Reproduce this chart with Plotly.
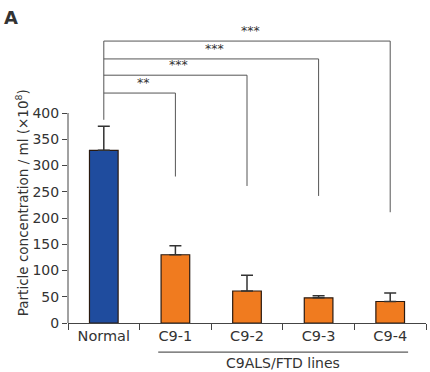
import plotly.graph_objects as go

categories = ["Normal", "C9-1", "C9-2", "C9-3", "C9-4"]
values = [329, 130, 61, 48, 41]
errors = [46, 17, 30, 4, 16]
bar_colors = ["#1f4c9e", "#f07b1f", "#f07b1f", "#f07b1f", "#f07b1f"]
y_ticks = [0, 50, 100, 150, 200, 250, 300, 350, 400]

# significance brackets: (target index, bracket height, target drop end, label)
sig_targets = [1, 2, 3, 4]
sig_heights = [438, 472, 503, 537]
sig_drop_ends = [279, 261, 242, 211]
sig_labels = ["**", "***", "***", "***"]
normal_drop_end = 387

FONT = "DejaVu Sans"
TXT = "#333333"

fig = go.Figure()
fig.add_trace(go.Bar(
    x=list(range(len(categories))), y=values,
    marker=dict(color=bar_colors, line=dict(color="#2a1a10", width=1.2)),
    width=0.4,
    error_y=dict(type="data", symmetric=False, array=errors,
                 arrayminus=[0] * len(errors), color="#333333",
                 thickness=1.5, width=6),
    showlegend=False,
))

shapes = []
line_style = dict(color="#555555", width=1)
shapes.append(dict(type="line", xref="x", yref="y", x0=0, x1=0,
                   y0=normal_drop_end, y1=max(sig_heights), line=line_style))
annotations = []
for t, h, d, lab in zip(sig_targets, sig_heights, sig_drop_ends, sig_labels):
    shapes.append(dict(type="line", xref="x", yref="y", x0=0, x1=t,
                       y0=h, y1=h, line=line_style))
    shapes.append(dict(type="line", xref="x", yref="y", x0=t, x1=t,
                       y0=d, y1=h, line=line_style))
    annotations.append(dict(x=t / 2 + 0.05, y=h + 2, xref="x", yref="y",
                            text=lab, showarrow=False, yanchor="bottom",
                            font=dict(size=12.5, color=TXT, family=FONT)))

# y axis line only up to 400
shapes.append(dict(type="line", xref="paper", yref="y", x0=0, x1=0,
                   y0=0, y1=400, line=dict(color="#444444", width=1)))
# underline under C9 lines
shapes.append(dict(type="line", xref="x", yref="paper", x0=0.76, x1=4.25,
                   y0=-0.099, y1=-0.099, line=dict(color="#333333", width=1)))

annotations.append(dict(x=2.5, y=-0.136, xref="x", yref="paper",
                        text="C9ALS/FTD lines", showarrow=False,
                        yanchor="middle",
                        font=dict(size=14, color=TXT, family=FONT)))
annotations.append(dict(x=-0.157, y=0.41, xref="paper", yref="paper",
                        text="Particle concentration / ml (×10<sup>8</sup>)",
                        textangle=-90, showarrow=False,
                        font=dict(size=13.5, color=TXT, family=FONT)))
annotations.append(dict(x=-0.185, y=1.04, xref="paper", yref="paper",
                        text="<b>A</b>", showarrow=False, xanchor="left",
                        yanchor="middle",
                        font=dict(size=18, color=TXT, family=FONT)))

fig.update_layout(
    width=430, height=372,
    margin=dict(l=68, r=4, t=29, b=49),
    plot_bgcolor="white", paper_bgcolor="white",
    shapes=shapes, annotations=annotations,
    xaxis=dict(range=[-0.5, 4.5], tickmode="array",
               tickvals=list(range(len(categories))), ticktext=categories,
               showline=True, linecolor="#444444", linewidth=1,
               ticks="", showgrid=False, zeroline=False,
               tickfont=dict(size=14.5, color=TXT, family=FONT)),
    xaxis2=dict(range=[-0.5, 4.5], overlaying="x", tickmode="array",
                tickvals=[-0.5, 0.5, 1.5, 2.5, 3.5, 4.5],
                showticklabels=False, ticks="outside", ticklen=6,
                tickcolor="#444444", showgrid=False, zeroline=False,
                side="bottom", anchor="y"),
    yaxis=dict(range=[0, 560], tickmode="array", tickvals=y_ticks,
               ticks="outside", ticklen=5, tickcolor="#444444",
               showline=False, showgrid=False, zeroline=False,
               tickfont=dict(size=14, color=TXT, family=FONT)),
)
fig.add_trace(go.Scatter(x=[0], y=[0], xaxis="x2", yaxis="y", mode="markers",
                         marker=dict(opacity=0), showlegend=False,
                         hoverinfo="skip"))

fig.write_html("out.html",
               config={"displayModeBar": False},
               post_script="document.body.style.margin='0';"
                           "document.documentElement.style.margin='0';")
